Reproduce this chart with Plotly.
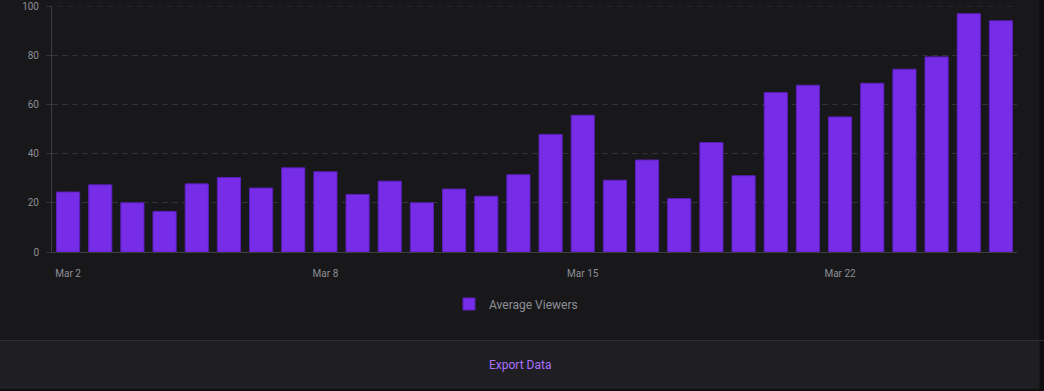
import plotly.graph_objects as go

# ---- data ----
viewers = [24.4, 27.3, 20.0, 16.5, 27.7, 30.3, 26.0, 34.2, 32.6, 23.4,
           28.8, 20.0, 25.6, 22.7, 31.4, 47.8, 55.6, 29.2, 37.4, 21.7,
           44.5, 31.0, 64.8, 67.8, 54.9, 68.6, 74.3, 79.3, 96.9, 94.0]
series_name = "Average Viewers"
tick_labels = ["Mar 2", "Mar 8", "Mar 15", "Mar 22"]
tick_bar_index = [0, 8, 16, 24]
y_ticks = [0, 20, 40, 60, 80, 100]

# ---- styling ----
BG = "#18181b"
STRIP = "#1f1f23"
EDGE = "#0e0e10"
GRID = "#333337"
AXIS = "#3d3d42"
TXT = "#8e8e95"
PURPLE = "#772ce8"
FONT = "Roboto"

W, H = 1044, 391
L, R, T, B = 52, 27, 6, 139
pw, ph = W - L - R, H - T - B

def px_x(p):
    return (p - L) / pw

def px_y(p):
    return (H - B - p) / ph

x = list(range(len(viewers)))

fig = go.Figure()
fig.add_trace(go.Bar(
    x=x, y=viewers, name=series_name,
    marker=dict(color=PURPLE, line=dict(color="#5a1fb8", width=1)),
    showlegend=True,
))

fig.update_layout(
    width=W, height=H,
    margin=dict(l=L, r=R, t=T, b=B, autoexpand=False),
    paper_bgcolor=BG, plot_bgcolor=BG,
    bargap=0.28,
    font=dict(family=FONT, color=TXT, size=10),
    xaxis=dict(
        range=[-0.5, len(viewers) - 0.5],
        tickmode="array", tickvals=tick_bar_index, ticktext=tick_labels,
        showgrid=False, zeroline=False,
        showline=True, linecolor=AXIS, linewidth=1,
        ticks="", ticklabelstandoff=12,
        tickfont=dict(size=10, color=TXT, family=FONT),
        fixedrange=True,
    ),
    yaxis=dict(
        range=[0, 100],
        tickmode="array", tickvals=y_ticks,
        showgrid=True, gridcolor=GRID, griddash="6px,4px", gridwidth=1,
        zeroline=False,
        showline=True, linecolor=AXIS, linewidth=1,
        ticks="outside", ticklen=5, tickcolor=GRID, tickwidth=1,
        ticklabelstandoff=5,
        tickfont=dict(size=10, color=TXT, family=FONT),
        fixedrange=True,
    ),
    legend=dict(
        orientation="h",
        xref="container", yref="container",
        x=0.5 - 6 / W, xanchor="center",
        y=1 - 304 / H, yanchor="middle",
        font=dict(size=12, color=TXT, family=FONT),
        bgcolor="rgba(0,0,0,0)",
        itemwidth=30,
    ),
    shapes=[
        # 100 gridline at top edge
        dict(type="line", xref="paper", yref="y",
             x0=px_x(47), x1=1, y0=100, y1=100,
             line=dict(color=GRID, width=1, dash="6px,4px")),
        # bottom strip
        dict(type="rect", xref="paper", yref="paper",
             x0=px_x(-5), x1=px_x(W + 5), y0=px_y(341), y1=px_y(H + 5),
             fillcolor=STRIP, line=dict(width=0), layer="below"),
        dict(type="line", xref="paper", yref="paper",
             x0=px_x(-5), x1=px_x(W + 5), y0=px_y(340.5), y1=px_y(340.5),
             line=dict(color="#2f2f35", width=1)),
        # bottom edge
        dict(type="rect", xref="paper", yref="paper",
             x0=px_x(-5), x1=px_x(W + 5), y0=px_y(389), y1=px_y(H + 5),
             fillcolor=EDGE, line=dict(width=0), layer="below"),
        # right edge
        dict(type="rect", xref="paper", yref="paper",
             x0=px_x(1039.5), x1=px_x(W + 5), y0=px_y(-5), y1=px_y(H + 5),
             fillcolor=EDGE, line=dict(width=0), layer="below"),
    ],
    annotations=[
        dict(text="Export Data", xref="paper", yref="paper",
             x=px_x(520), y=px_y(365), xanchor="center", yanchor="middle",
             showarrow=False, font=dict(size=12, color="#a970ff", family=FONT)),
    ],
)

fig.write_html(
    "out.html",
    config={"displayModeBar": False},
    post_script="document.body.style.margin='0';document.body.style.padding='0';"
                "document.body.style.background='#18181b';"
                "document.documentElement.style.overflow='hidden';",
)
